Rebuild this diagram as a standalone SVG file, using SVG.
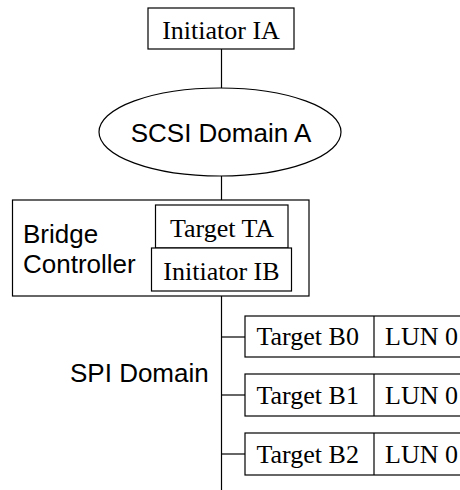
<svg xmlns="http://www.w3.org/2000/svg" width="460" height="490" viewBox="0 0 460 490">
  <style>
    .box { fill: #fff; stroke: #000; stroke-width: 1.2; }
    .wire { fill: none; stroke: #000; stroke-width: 1.2; }
    .serif { font-family: "Liberation Serif", "Times New Roman", serif; font-size: 26px; fill: #000; }
    .sans { font-family: "Liberation Sans", Arial, sans-serif; font-size: 26px; fill: #000; }
  </style>
  <rect width="460" height="490" fill="#fff"/>

  <!-- connectors -->
  <g id="connectors" class="wire">
    <line x1="221.5" y1="49" x2="221.5" y2="88"/>
    <line x1="221.5" y1="176" x2="221.5" y2="205"/>
    <line x1="221.5" y1="291" x2="221.5" y2="490"/>
    <line x1="221.5" y1="337" x2="245" y2="337"/>
    <line x1="221.5" y1="395" x2="245" y2="395"/>
    <line x1="221.5" y1="454" x2="245" y2="454"/>
  </g>

  <g id="initiator-ia">
    <rect class="box" x="148" y="8" width="146" height="41"/>
    <text class="serif" x="221" y="39" text-anchor="middle">Initiator IA</text>
  </g>

  <g id="scsi-domain-a">
    <ellipse class="box" cx="220" cy="132" rx="121" ry="44"/>
    <text class="sans" x="221" y="141.5" text-anchor="middle">SCSI Domain A</text>
  </g>

  <g id="bridge-controller">
    <rect class="box" x="12.5" y="200" width="296.5" height="96"/>
    <text class="sans" x="23" y="243">Bridge</text>
    <text class="sans" x="23" y="273">Controller</text>
  </g>

  <g id="target-ta">
    <rect class="box" x="155.5" y="205" width="132.5" height="43"/>
    <text class="serif" x="222" y="236.5" text-anchor="middle">Target TA</text>
  </g>

  <g id="initiator-ib">
    <rect class="box" x="151.5" y="248" width="140" height="43"/>
    <text class="serif" x="221.5" y="280" text-anchor="middle">Initiator IB</text>
  </g>

  <g id="spi-domain">
    <text class="sans" x="70" y="381.5">SPI Domain</text>
  </g>

  <g id="target-b0">
    <rect class="box" x="245" y="316" width="230" height="41"/>
    <line class="wire" x1="374" y1="316" x2="374" y2="357"/>
    <text class="serif" x="256.5" y="345">Target B0</text>
    <text class="serif" x="385" y="345">LUN 0</text>
  </g>

  <g id="target-b1">
    <rect class="box" x="245" y="374" width="230" height="42"/>
    <line class="wire" x1="374" y1="374" x2="374" y2="416"/>
    <text class="serif" x="256.5" y="403.5">Target B1</text>
    <text class="serif" x="385" y="403.5">LUN 0</text>
  </g>

  <g id="target-b2">
    <rect class="box" x="245" y="433" width="230" height="42"/>
    <line class="wire" x1="374" y1="433" x2="374" y2="475"/>
    <text class="serif" x="256.5" y="463">Target B2</text>
    <text class="serif" x="385" y="463">LUN 0</text>
  </g>
</svg>
